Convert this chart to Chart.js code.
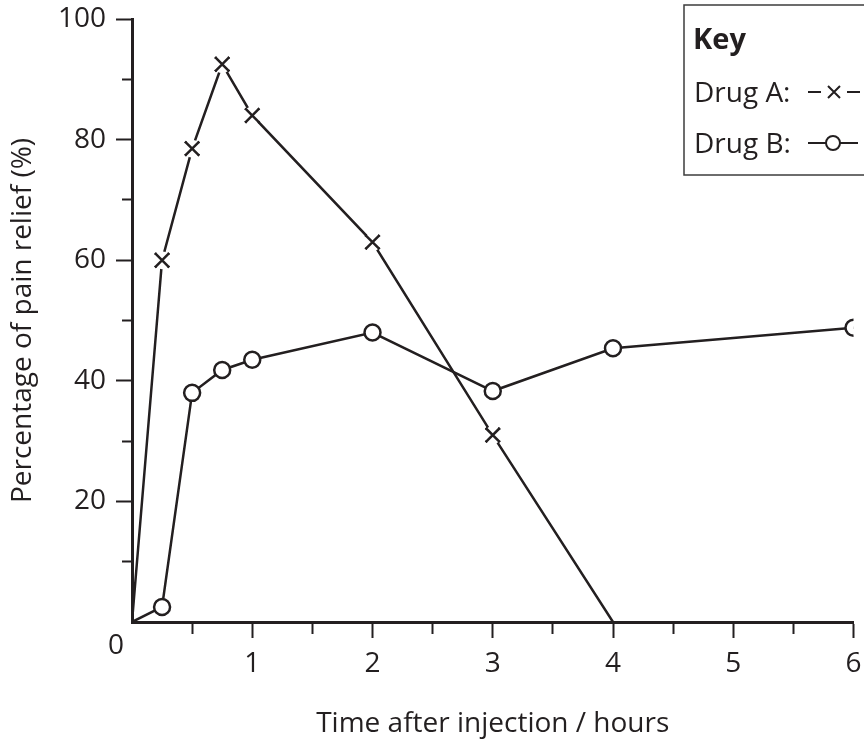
<!DOCTYPE html>
<html>
<head>
<meta charset="utf-8">
<title>Pain relief after injection</title>
<script src="https://cdn.jsdelivr.net/npm/chart.js@4.4.0/dist/chart.umd.min.js"></script>
<style>
  html, body { margin: 0; padding: 0; background: #fff; }
  #wrap { width: 864px; height: 744px; position: relative; }
</style>
</head>
<body>
<div id="wrap"><canvas id="painChart"></canvas></div>
<script>
// values (hours, % pain relief)
const timesA = [0, 0.25, 0.5, 0.75, 1, 2, 3, 4];
const reliefA = [0, 60, 78.5, 92.5, 84, 63, 31, 0];
const timesB = [0, 0.25, 0.5, 0.75, 1, 2, 3, 4, 6];
const reliefB = [0, 2.5, 38, 41.8, 43.5, 48, 38.3, 45.4, 48.8];

const xTickLabels = [0, 1, 2, 3, 4, 5, 6];
const yTickLabels = [20, 40, 60, 80, 100];

const ink = '#231f20';
const clear = 'rgba(0,0,0,0)';
const family = '"Open Sans", sans-serif';

const toPoints = (xs, ys) => xs.map((x, i) => ({ x: x, y: ys[i] }));

// no marker on the origin, and Drug A has none where it meets the axis at 4 h
const markerA = ctx => (ctx.dataIndex === 0 || ctx.dataIndex === timesA.length - 1) ? 0 : 10;
const markerB = ctx => ctx.dataIndex === 0 ? 0 : 8;

// white halo behind the crosses so the line stops short of them
const crossHalo = {
    id: 'crossHalo',
    afterDatasetDraw(chart, args) {
        if (args.index !== 0) return;
        const ctx = chart.ctx;
        args.meta.data.forEach((pt, i) => {
            if (i === 0 || i === timesA.length - 1) return;
            ctx.save();
            ctx.fillStyle = '#fff';
            ctx.beginPath();
            ctx.arc(pt.x, pt.y, 9, 0, Math.PI * 2);
            ctx.fill();
            ctx.restore();
            pt.draw(ctx, chart.chartArea);
        });
    }
};

// the "0" sits in the corner between the two axes
const cornerZero = {
    id: 'cornerZero',
    afterDraw(chart) {
        const { ctx, scales } = chart;
        ctx.save();
        ctx.font = '28px ' + family;
        ctx.fillStyle = ink;
        ctx.textAlign = 'center';
        ctx.textBaseline = 'middle';
        ctx.fillText(String(xTickLabels[0]), scales.x.getPixelForValue(0) - 16, scales.y.getPixelForValue(0) + 24);
        ctx.restore();
    }
};

// boxed key in the top right corner
const keyBox = {
    id: 'keyBox',
    afterDraw(chart) {
        const ctx = chart.ctx;
        const left = 684, top = 5, bottom = 175;
        ctx.save();
        ctx.strokeStyle = '#3c3c3c';
        ctx.lineWidth = 1.5;
        ctx.strokeRect(left, top, chart.width - left + 20, bottom - top);

        ctx.fillStyle = ink;
        ctx.textAlign = 'left';
        ctx.textBaseline = 'alphabetic';
        ctx.font = 'bold 29px ' + family;
        ctx.fillText('Key', 693, 49);

        ctx.font = '28px ' + family;
        ctx.strokeStyle = ink;
        ctx.lineWidth = 2;
        chart.data.datasets.forEach((ds, i) => {
            const base = 102 + i * 51;
            const cy = base - 10;
            ctx.fillText(ds.label + ':', 694, base);
            ctx.beginPath();
            if (i === 0) {
                ctx.moveTo(808, cy); ctx.lineTo(821, cy);
                ctx.moveTo(847, cy); ctx.lineTo(860, cy);
                ctx.moveTo(828, cy - 6); ctx.lineTo(840, cy + 6);
                ctx.moveTo(840, cy - 6); ctx.lineTo(828, cy + 6);
                ctx.stroke();
            } else {
                ctx.moveTo(808, cy); ctx.lineTo(826, cy);
                ctx.moveTo(840, cy); ctx.lineTo(858, cy);
                ctx.stroke();
                ctx.beginPath();
                ctx.arc(833, cy, 7, 0, Math.PI * 2);
                ctx.stroke();
            }
        });
        ctx.restore();
    }
};

new Chart(document.getElementById('painChart'), {
    type: 'line',
    data: {
        datasets: [
            {
                label: 'Drug A',
                data: toPoints(timesA, reliefA),
                borderColor: ink,
                borderWidth: 2.5,
                pointStyle: 'crossRot',
                pointRadius: markerA,
                pointBorderColor: ink,
                pointBorderWidth: 2.5,
                tension: 0
            },
            {
                label: 'Drug B',
                data: toPoints(timesB, reliefB),
                borderColor: ink,
                borderWidth: 2.5,
                pointStyle: 'circle',
                pointRadius: markerB,
                pointBackgroundColor: '#fff',
                pointBorderColor: ink,
                pointBorderWidth: 2.5,
                tension: 0
            }
        ]
    },
    options: {
        responsive: true,
        maintainAspectRatio: false,
        animation: false,
        events: [],
        layout: { padding: { left: 0, top: 19, right: 6, bottom: 0 } },
        plugins: {
            legend: { display: false },
            tooltip: { enabled: false }
        },
        scales: {
            x: {
                type: 'linear',
                min: 0,
                max: 6,
                afterFit: s => { s.height = 122; s.paddingLeft = 0; s.paddingRight = 0; },
                border: { width: 3, color: ink },
                grid: {
                    drawOnChartArea: false,
                    tickLength: 16,
                    tickWidth: 2,
                    tickColor: c => c.tick.value === 0 ? clear : ink,
                    tickBorderDash: c => Number.isInteger(c.tick.value) ? [] : [10, 100]
                },
                ticks: {
                    stepSize: 0.5,
                    autoSkip: false,
                    maxRotation: 0,
                    padding: 9,
                    color: ink,
                    font: { family: family, size: 28 },
                    callback: v => (v !== 0 && xTickLabels.includes(v)) ? String(v) : ''
                },
                title: {
                    display: true,
                    text: 'Time after injection / hours',
                    color: ink,
                    font: { family: family, size: 28 },
                    padding: { top: 0, bottom: 3 }
                }
            },
            y: {
                min: 0,
                max: 100,
                afterFit: s => { s.width = 132; s.paddingTop = 0; s.paddingBottom = 0; },
                border: { width: 3, color: ink },
                grid: {
                    drawOnChartArea: false,
                    tickLength: 16,
                    tickWidth: 2,
                    tickColor: c => c.tick.value === 0 ? clear : ink,
                    tickBorderDash: c => c.tick.value % 20 === 0 ? [] : [0, 6, 10, 100]
                },
                ticks: {
                    stepSize: 10,
                    autoSkip: false,
                    padding: 10,
                    color: ink,
                    font: { family: family, size: 28 },
                    callback: v => yTickLabels.includes(v) ? String(v) : ''
                },
                title: {
                    display: true,
                    text: 'Percentage of pain relief (%)',
                    color: ink,
                    font: { family: family, size: 28 },
                    padding: { top: 6, bottom: 0 }
                }
            }
        }
    },
    plugins: [crossHalo, cornerZero, keyBox]
});
</script>
</body>
</html>
